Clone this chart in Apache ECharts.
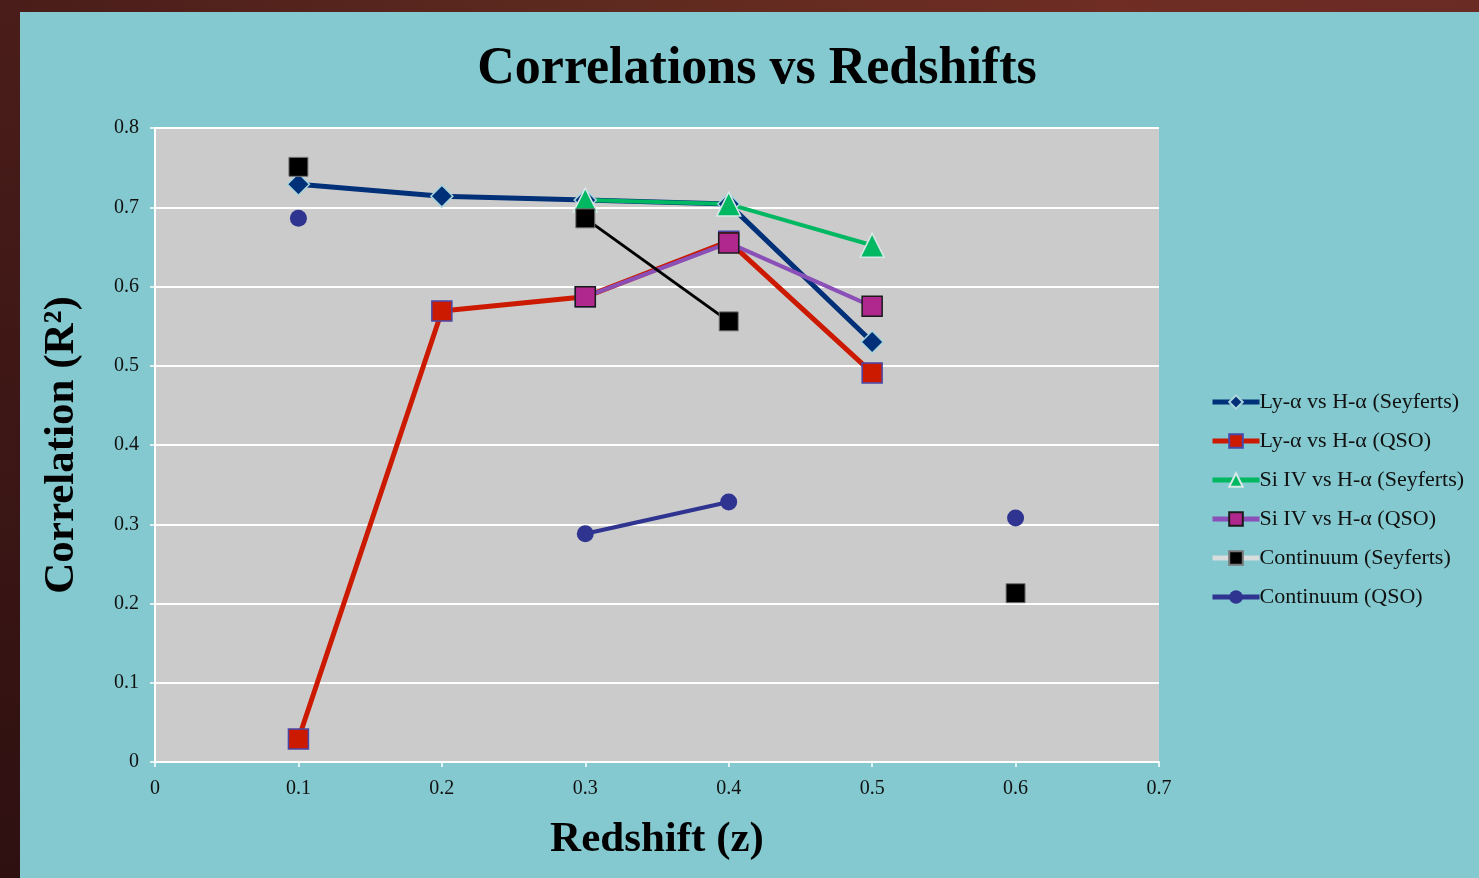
<!DOCTYPE html>
<html>
<head>
<meta charset="utf-8">
<script src="https://cdn.jsdelivr.net/npm/echarts@6/dist/echarts.min.js"></script>
<style>
  html, body { margin: 0; padding: 0; }
  body {
    width: 1479px; height: 878px; overflow: hidden;
    background: linear-gradient(90deg, #4a1d1a 0%, #5e2a1f 40%, #6f2d24 75%, #6a2b25 100%);
    position: relative;
  }
  #panel { position: absolute; left: 20px; top: 12px; right: 0; bottom: 0; background: #83c9cf; }
  #left { position: absolute; left: 0; top: 12px; width: 20px; bottom: 0;
    background: linear-gradient(180deg, #4a1d1a 0%, #2e1010 100%); }
  #chart { position: absolute; left: 0; top: 0; width: 1479px; height: 878px; }
</style>
</head>
<body>
<div id="left"></div>
<div id="panel"></div>
<div id="chart"></div>
<script>
  // redshift categories (x positions)
  var redshifts = [0.1, 0.2, 0.3, 0.4, 0.5, 0.6];
  var lyaSeyferts  = [0.729, 0.714, 0.709, 0.704, 0.530, '-'];
  var lyaQSO       = [0.029, 0.569, 0.587, 0.657, 0.491, '-'];
  var siSeyferts   = ['-', '-', 0.709, 0.704, 0.652, '-'];
  var siQSO        = ['-', '-', 0.587, 0.655, 0.575, '-'];
  var contSeyferts = [0.751, '-', 0.686, 0.556, '-', 0.213];
  var contQSO      = [0.686, '-', 0.288, 0.328, '-', 0.308];
  var xTicks = ['0', '0.1', '0.2', '0.3', '0.4', '0.5', '0.6', '0.7'];
  var yTicks = ['0', '0.1', '0.2', '0.3', '0.4', '0.5', '0.6', '0.7', '0.8'];

  function pairs(vals) {
    return redshifts.map(function (x, i) { return [x, vals[i]]; });
  }

  var serif = '"Liberation Serif", "DejaVu Serif", serif';
  var myChart = echarts.init(document.getElementById('chart'));
  var option = {
    backgroundColor: 'transparent',
    animation: false,
    title: {
      text: 'Correlations vs Redshifts',
      left: 752, top: 39, textAlign: 'center',
      textStyle: { fontFamily: serif, fontSize: 52, fontWeight: 'bold', color: '#000' }
    },
    grid: { left: 155, right: 320, top: 128, bottom: 116, show: true, backgroundColor: '#cbcbcb', borderWidth: 0 },
    legend: {
      orient: 'vertical',
      left: 1210, top: 391, padding: 0,
      itemWidth: 47, itemHeight: 17, itemGap: 17,
      textStyle: { fontFamily: serif, fontSize: 22, color: '#111', padding: [0, 0, 0, -5] },
      data: [
        { name: 'Ly-α vs H-α (Seyferts)', lineStyle: { width: 5 } },
        { name: 'Ly-α vs H-α (QSO)', lineStyle: { width: 5 } },
        { name: 'Si IV vs H-α (Seyferts)', lineStyle: { width: 5 } },
        { name: 'Si IV vs H-α (QSO)', lineStyle: { width: 5 } },
        { name: 'Continuum (Seyferts)', lineStyle: { color: '#d8dcdc', width: 5 } },
        { name: 'Continuum (QSO)', lineStyle: { width: 5 } }
      ]
    },
    xAxis: {
      type: 'value', min: 0, max: 0.7, interval: 0.1,
      axisLine: { lineStyle: { color: '#ffffff', width: 2 } },
      axisTick: { show: true, length: 5, lineStyle: { color: '#ffffff', width: 1.5 } },
      splitLine: { show: false },
      axisLabel: {
        margin: 17, fontFamily: serif, fontSize: 20, color: '#111',
        formatter: function (v) { return xTicks[Math.round(v * 10)]; }
      },
      name: 'Redshift (z)', nameLocation: 'middle', nameGap: 56,
      nameTextStyle: { fontFamily: serif, fontSize: 43, fontWeight: 'bold', color: '#000' }
    },
    yAxis: {
      type: 'value', min: 0, max: 0.8, interval: 0.1,
      axisLine: { show: true, lineStyle: { color: '#ffffff', width: 2 } },
      axisTick: { show: true, length: 5, lineStyle: { color: '#ffffff', width: 1.5 } },
      splitLine: { lineStyle: { color: '#ffffff', width: 2 } },
      axisLabel: {
        margin: 16, fontFamily: serif, fontSize: 20, color: '#111',
        formatter: function (v) { return yTicks[Math.round(v * 10)]; }
      },
      name: 'Correlation (R²)', nameLocation: 'middle', nameGap: 72,
      nameTextStyle: { fontFamily: serif, fontSize: 43, fontWeight: 'bold', color: '#000' }
    },
    series: [
      {
        name: 'Ly-α vs H-α (Seyferts)', type: 'line', data: pairs(lyaSeyferts),
        symbol: 'diamond', symbolSize: 22, connectNulls: false,
        lineStyle: { color: '#003078', width: 5 },
        itemStyle: { color: '#003078', borderColor: '#a8d4dc', borderWidth: 1.5 }
      },
      {
        name: 'Ly-α vs H-α (QSO)', type: 'line', data: pairs(lyaQSO),
        symbol: 'rect', symbolSize: 20, connectNulls: false,
        lineStyle: { color: '#cc1a00', width: 5 },
        itemStyle: { color: '#cc1a00', borderColor: '#4848a8', borderWidth: 1.5 }
      },
      {
        name: 'Si IV vs H-α (Seyferts)', type: 'line', data: pairs(siSeyferts),
        symbol: 'triangle', symbolSize: 24, connectNulls: false,
        lineStyle: { color: '#00b862', width: 4 },
        itemStyle: { color: '#00b862', borderColor: '#d8e8e8', borderWidth: 1.5 }
      },
      {
        name: 'Si IV vs H-α (QSO)', type: 'line', data: pairs(siQSO),
        symbol: 'rect', symbolSize: 20, connectNulls: false,
        lineStyle: { color: '#8a50b8', width: 4 },
        itemStyle: { color: '#b0288e', borderColor: '#1a1a1a', borderWidth: 1.5 }
      },
      {
        name: 'Continuum (Seyferts)', type: 'line', data: pairs(contSeyferts),
        symbol: 'rect', symbolSize: 19, connectNulls: false,
        lineStyle: { color: '#000000', width: 3 },
        itemStyle: { color: '#000000', borderColor: '#777777', borderWidth: 1 }
      },
      {
        name: 'Continuum (QSO)', type: 'line', data: pairs(contQSO),
        symbol: 'circle', symbolSize: 17, connectNulls: false,
        lineStyle: { color: '#2e3490', width: 4 },
        itemStyle: { color: '#2e3490', borderWidth: 0 }
      }
    ]
  };
  myChart.setOption(option);
  window.addEventListener('resize', () => {
    myChart.resize();
  });
</script>
</body>
</html>
